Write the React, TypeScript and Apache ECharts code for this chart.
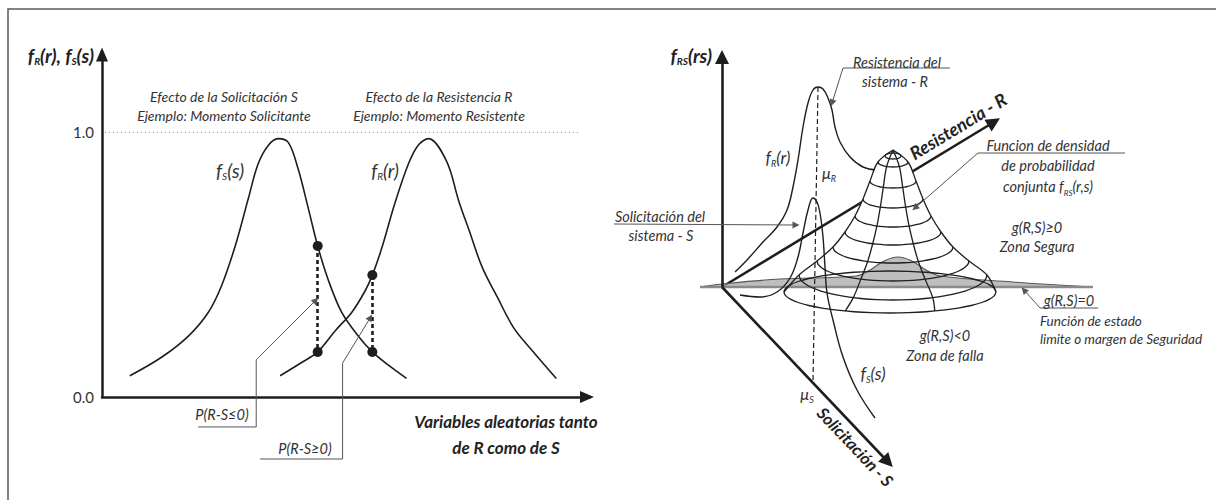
import React, { useEffect, useRef } from 'react';
import * as echarts from 'echarts';

// ---------------- Left panel: densities f_S(s) and f_R(r) ----------------
const fsX = [0.57, 1.22, 1.77, 2.18, 2.45, 2.73, 3.0, 3.2, 3.41, 3.61, 3.82, 4.02, 4.23, 4.42, 4.64, 4.91, 5.25, 5.54, 5.87, 6.24];
const fsY = [0.08, 0.15, 0.23, 0.32, 0.42, 0.57, 0.75, 0.88, 0.95, 0.975, 0.96, 0.86, 0.71, 0.57, 0.44, 0.32, 0.23, 0.17, 0.12, 0.07];
const frX = [3.65, 4.09, 4.42, 4.78, 5.12, 5.39, 5.54, 5.73, 6.0, 6.28, 6.48, 6.69, 7.06, 7.31, 7.54, 7.79, 8.12, 8.44, 8.84, 9.31];
const frY = [0.08, 0.13, 0.17, 0.25, 0.32, 0.4, 0.46, 0.56, 0.73, 0.88, 0.95, 0.975, 0.89, 0.74, 0.62, 0.49, 0.37, 0.26, 0.17, 0.07];
const overlapX = [4.42, 5.54];
const fsAtOverlap = [0.57, 0.17];
const frAtOverlap = [0.17, 0.46];
const yTickValues = [0, 1];
const yTickLabels = ['0.0', '1.0'];
const refLevel = 1.0;
const leaderLeftA = [[1.97, -0.113], [3.16, -0.113], [3.16, 0.14]];
const leaderLeftAEnd = [4.38, 0.365];
const leaderLeftB = [[3.24, -0.234], [4.93, -0.234], [4.93, 0.128]];
const leaderLeftBEnd = [5.5, 0.3];

// ---------------- Right panel: joint density sketch (units = px from origin, y up) ----------------
const fAxisEnd = [0, 230];
const rAxisEnd = [272, 165];
const sAxisEnd = [166, -175];
const frSide = [[13, 15], [25, 27], [41, 45], [55, 60], [65, 77], [71, 100], [76, 127], [81, 160], [86, 184], [91, 197], [96, 200], [101, 198], [106, 189], [110, 177], [113, 160], [118, 145], [128, 130], [141, 120], [155, 117]];
const fsSide = [[18, -8], [38, -10], [55, -5], [68, 9], [76, 30], [81, 54], [86, 77], [91, 89], [95, 85], [98, 74], [101, 50], [103, 20], [105, -6], [111, -33], [121, -70], [135, -103], [153, -131]];
const muLine = [[96, 200], [91, -95]];
const planeEdge = [[-22, 0], [0, 3], [58, 8], [134, 11], [148, 17], [162, 26], [176, 30], [190, 26], [204, 17], [218, 11], [291, 5], [371, 0]];
const planeLine = [[-22, 0], [371, 0]];
const humpU = 171;
const humpApex = [171, 137];
const ringLevel = [125, 106, 88, 71, 55, 40, 26, 12];
const ringRx = [15, 23, 30, 38, 48, 60, 76, 94];
const ringRy = [5, 7, 9, 11, 13, 16, 20, 25];
const capRing = [171, 131, 8, 3];
const baseRing = [168, -5, 106, 21];
const meridianDeg = [0, 65, 115, 180];
const leaderR = [[228, 219], [121, 219]];
const leaderREnd = [110, 184];
const leaderS = [[-108, 63]];
const leaderSEnd = [74, 62];
const leaderDens = [[403, 134], [256, 134]];
const leaderDensEnd = [193, 79];
const leaderG = [[376, -21], [318, -21]];
const leaderGEnd = [302, -3];

const INK = '#1e1e1e';
const TXT = '#333333';
const FONT = 'Lato, "Open Sans", sans-serif';

function txt(x: number, y: number, text: string, o: any = {}) {
  const base: any = {
    fontFamily: FONT,
    fontStyle: 'italic',
    fontSize: o.fontSize || 14,
    fontWeight: o.fontWeight || 'normal',
    fill: o.fill || TXT,
    lineHeight: o.lineHeight || 22,
  };
  const sub: any = { ...base, fontSize: Math.round(base.fontSize * 0.55), verticalAlign: 'bottom', lineHeight: Math.round(base.fontSize * 0.75) };
  return {
    type: 'text',
    x,
    y,
    rotation: o.rotation || 0,
    z: 100,
    style: {
      text,
      align: o.align || 'center',
      verticalAlign: 'middle',
      ...base,
      rich: { i: base, s: sub },
    },
  };
}

function buildOption(): any {
  const lines0 = (data: any[], extra: any = {}) => ({
    type: 'lines',
    coordinateSystem: 'cartesian2d',
    xAxisIndex: 0,
    yAxisIndex: 0,
    clip: false,
    ...extra,
    data: data.map((c) => ({ coords: c })),
  });
  const lines1 = (data: any[], extra: any = {}) => ({
    type: 'lines',
    coordinateSystem: 'cartesian2d',
    xAxisIndex: 1,
    yAxisIndex: 1,
    clip: false,
    ...extra,
    data: data.map((c) => ({ coords: c })),
  });
  const thin = { color: '#555', width: 1, opacity: 1 };

  const humpFill = (params: any, api: any) => {
    const P = (u: number, v: number) => api.coord([u, v]);
    const pts: any[] = [P(humpApex[0], humpApex[1])];
    for (let i = 0; i < ringLevel.length; i++) pts.push(P(humpU + ringRx[i], ringLevel[i]));
    const last = ringLevel.length - 1;
    for (let a = 0; a <= 180; a += 10) {
      const t = (a * Math.PI) / 180;
      pts.push(P(humpU + ringRx[last] * Math.cos(t), ringLevel[last] - ringRy[last] * Math.sin(t)));
    }
    for (let i = last; i >= 0; i--) pts.push(P(humpU - ringRx[i], ringLevel[i]));
    return { type: 'polygon', shape: { points: pts }, style: { fill: '#ffffff', stroke: 'none' } };
  };

  const humpLines = (params: any, api: any) => {
    const P = (u: number, v: number) => api.coord([u, v]);
    const ell = (cu: number, cv: number, rx: number, ry: number, a0: number, a1: number) => {
      const pts: any[] = [];
      for (let a = a0; a <= a1; a += 10) {
        const t = (a * Math.PI) / 180;
        pts.push(P(cu + rx * Math.cos(t), cv - ry * Math.sin(t)));
      }
      return pts;
    };
    const st = { stroke: INK, lineWidth: 1.3, fill: 'none' };
    const children: any[] = [];
    for (let i = 0; i < ringLevel.length; i++) {
      children.push({ type: 'polyline', shape: { points: ell(humpU, ringLevel[i], ringRx[i], ringRy[i], 0, 180), smooth: 0.3 }, style: st });
    }
    children.push({ type: 'polyline', shape: { points: ell(capRing[0], capRing[1], capRing[2], capRing[3], 0, 360), smooth: 0.3 }, style: st });
    children.push({ type: 'polyline', shape: { points: ell(baseRing[0], baseRing[1], baseRing[2], baseRing[3], 0, 360), smooth: 0.3 }, style: st });
    meridianDeg.forEach((d) => {
      const t = (d * Math.PI) / 180;
      const pts: any[] = [P(humpApex[0], humpApex[1])];
      for (let i = 0; i < ringLevel.length; i++) {
        pts.push(P(humpU + ringRx[i] * Math.cos(t), ringLevel[i] - ringRy[i] * Math.sin(t)));
      }
      pts.push(P(baseRing[0] + baseRing[2] * Math.cos(t), baseRing[1] - baseRing[3] * Math.sin(t)));
      children.push({ type: 'polyline', shape: { points: pts, smooth: 0.35 }, style: st });
    });
    return { type: 'group', children };
  };

  const bold = { fontWeight: 'bold', fill: '#222' };

  return {
    animation: false,
    backgroundColor: '#ffffff',
    grid: [
      { left: 102, top: 52.5, width: 488, height: 344.5 },
      { left: 592, top: 0, width: 624, height: 500 },
    ],
    xAxis: [
      {
        type: 'value', gridIndex: 0, min: 0, max: 10,
        axisLine: { show: true, lineStyle: { color: INK, width: 2.5 }, symbol: ['none', 'triangle'], symbolSize: [12, 14], symbolOffset: [0, -3] },
        axisTick: { show: false }, axisLabel: { show: false }, splitLine: { show: false },
      },
      { type: 'value', gridIndex: 1, min: -130, max: 494, show: false },
    ],
    yAxis: [
      {
        type: 'value', gridIndex: 0, min: 0, max: 1.3, interval: 1,
        axisLine: { show: true, onZero: false, lineStyle: { color: INK, width: 2.5 }, symbol: ['none', 'triangle'], symbolSize: [12, 14], symbolOffset: [0, -2] },
        axisTick: { show: false }, splitLine: { show: false },
        axisLabel: {
          color: TXT, fontSize: 15, fontFamily: FONT, margin: 8,
          formatter: (v: number) => { const k = yTickValues.indexOf(v); return k >= 0 ? yTickLabels[k] : ''; },
        },
      },
      { type: 'value', gridIndex: 1, min: -213, max: 287, show: false },
    ],
    graphic: [
      { type: 'rect', z: 0, shape: { x: 8, y: 9, width: 1400, height: 700 }, style: { fill: 'none', stroke: '#5a5a5a', lineWidth: 1.5 } },
      // left panel texts
      txt(94, 55, '{i|f}{s|R}{i|(r), f}{s|S}{i|(s)}', { fontSize: 19, align: 'right', ...bold }),
      txt(224, 96, 'Efecto de la Solicitación S'),
      txt(224, 115, 'Ejemplo: Momento Solicitante'),
      txt(439, 96, 'Efecto de la Resistencia R'),
      txt(439, 115, 'Ejemplo: Momento Resistente'),
      txt(230, 170, '{i|f}{s|S}{i|(s)}', { fontSize: 19 }),
      txt(385, 170, '{i|f}{s|R}{i|(r)}', { fontSize: 19 }),
      txt(222, 414, 'P(R-S≤0)', { fontSize: 14.5 }),
      txt(305, 448, 'P(R-S≥0)', { fontSize: 14.5 }),
      txt(506, 421, 'Variables aleatorias tanto', { fontSize: 17, ...bold }),
      txt(506, 447, 'de R como de S', { fontSize: 17, ...bold }),
      // right panel texts
      txt(712, 55, '{i|f}{s|RS}{i|(rs)}', { fontSize: 19, align: 'right', ...bold }),
      txt(897, 62, 'Resistencia del', { fontSize: 14.5 }),
      txt(895, 81, 'sistema - R', { fontSize: 14.5 }),
      txt(778, 157, '{i|f}{s|R}{i|(r)}', { fontSize: 17 }),
      txt(829, 172, '{i|μ}{s|R}', { fontSize: 16 }),
      txt(660, 216, 'Solicitación del', { fontSize: 14.5 }),
      txt(661, 235, 'sistema - S', { fontSize: 14.5 }),
      txt(958, 126, 'Resistencia - R', { fontSize: 18, rotation: 0.546, ...bold }),
      txt(1048, 145, 'Funcion de densidad', { fontSize: 14.5 }),
      txt(1048, 165, 'de probabilidad', { fontSize: 14.5 }),
      txt(1048, 186, '{i|conjunta f}{s|RS}{i|(r,s)}', { fontSize: 14.5 }),
      txt(1037, 227, 'g(R,S)≥0', { fontSize: 14.5 }),
      txt(1037, 246, 'Zona Segura', { fontSize: 14.5 }),
      txt(1069, 300, 'g(R,S)=0', { fontSize: 14.5 }),
      txt(1040, 321, 'Función de estado', { fontSize: 13.5, align: 'left' }),
      txt(1040, 339, 'limite o margen de Seguridad', { fontSize: 13.5, align: 'left' }),
      txt(945, 335, 'g(R,S)<0', { fontSize: 14.5 }),
      txt(945, 355, 'Zona de falla', { fontSize: 14.5 }),
      txt(873, 373, '{i|f}{s|S}{i|(s)}', { fontSize: 17 }),
      txt(807, 393, '{i|μ}{s|S}', { fontSize: 16 }),
      txt(855, 447, 'Solicitación - S', { fontSize: 16.5, rotation: -0.81, ...bold }),
    ],
    series: [
      // ---- left panel ----
      lines0([[[0.06, refLevel], [9.8, refLevel]]], { lineStyle: { color: '#9a9a9a', width: 1, type: [1, 3], opacity: 1 }, z: 1 }),
      {
        type: 'line', xAxisIndex: 0, yAxisIndex: 0, data: fsX.map((x, i) => [x, fsY[i]]),
        smooth: 0.35, symbol: 'none', lineStyle: { color: INK, width: 1.6 }, z: 3,
      },
      {
        type: 'line', xAxisIndex: 0, yAxisIndex: 0, data: frX.map((x, i) => [x, frY[i]]),
        smooth: 0.35, symbol: 'none', lineStyle: { color: INK, width: 1.6 }, z: 3,
      },
      lines0(overlapX.map((x, i) => [[x, Math.max(fsAtOverlap[i], frAtOverlap[i])], [x, Math.min(fsAtOverlap[i], frAtOverlap[i])]]), {
        lineStyle: { color: INK, width: 2.6, type: [4, 3], opacity: 1 }, z: 4,
      }),
      {
        type: 'scatter', xAxisIndex: 0, yAxisIndex: 0, symbolSize: 10, itemStyle: { color: INK, opacity: 1 }, z: 5,
        data: overlapX.flatMap((x, i) => [[x, fsAtOverlap[i]], [x, frAtOverlap[i]]]),
      },
      lines0([leaderLeftA, leaderLeftB], { polyline: true, lineStyle: thin, z: 4 }),
      lines0([[leaderLeftA[2], leaderLeftAEnd], [leaderLeftB[2], leaderLeftBEnd]], { symbol: ['none', 'triangle'], symbolSize: 7, lineStyle: thin, z: 4 }),
      // ---- right panel ----
      lines1([[[0, 0], rAxisEnd]], { symbol: ['none', 'triangle'], symbolSize: 14, lineStyle: { color: INK, width: 2.6, opacity: 1 }, z: 1 }),
      {
        type: 'line', xAxisIndex: 1, yAxisIndex: 1, data: frSide, smooth: 0.4, symbol: 'none',
        lineStyle: { color: INK, width: 1.4 }, z: 1,
      },
      { type: 'custom', xAxisIndex: 1, yAxisIndex: 1, data: [[0, 0]], renderItem: humpFill, clip: false, z: 2 },
      {
        type: 'line', xAxisIndex: 1, yAxisIndex: 1, data: planeEdge, smooth: 0.4, symbol: 'none',
        lineStyle: { color: '#555', width: 1.1 }, areaStyle: { color: '#a8a8a8', opacity: 0.75 }, z: 3,
      },
      {
        type: 'line', xAxisIndex: 1, yAxisIndex: 1, data: planeLine, symbol: 'none',
        lineStyle: { color: '#8a8a8a', width: 2.5 }, z: 3,
      },
      { type: 'custom', xAxisIndex: 1, yAxisIndex: 1, data: [[0, 0]], renderItem: humpLines, clip: false, z: 4 },
      {
        type: 'line', xAxisIndex: 1, yAxisIndex: 1, data: fsSide, smooth: 0.4, symbol: 'none',
        lineStyle: { color: INK, width: 1.4 }, z: 5,
      },
      lines1([muLine], { lineStyle: { color: INK, width: 1.2, type: [5, 3], opacity: 1 }, z: 5 }),
      lines1([[[0, 0], fAxisEnd], [[0, 0], sAxisEnd]], { symbol: ['none', 'triangle'], symbolSize: 14, lineStyle: { color: INK, width: 2.6, opacity: 1 }, z: 6 }),
      lines1([leaderR, leaderDens, leaderG], { polyline: true, lineStyle: thin, z: 6 }),
      lines1([[leaderR[1], leaderREnd], [leaderS[0], leaderSEnd], [leaderDens[1], leaderDensEnd], [leaderG[1], leaderGEnd]], {
        symbol: ['none', 'triangle'], symbolSize: 7, lineStyle: thin, z: 6,
      }),
    ],
  };
}

export default function App() {
  const ref = useRef<HTMLDivElement>(null);
  useEffect(() => {
    const chart = echarts.init(ref.current!, null, { renderer: 'svg' });
    chart.setOption(buildOption());
    return () => chart.dispose();
  }, []);
  return (
    <div
      ref={ref}
      style={{ position: 'absolute', left: 0, top: 0, width: 1216, height: 500, background: '#fff' }}
    />
  );
}
